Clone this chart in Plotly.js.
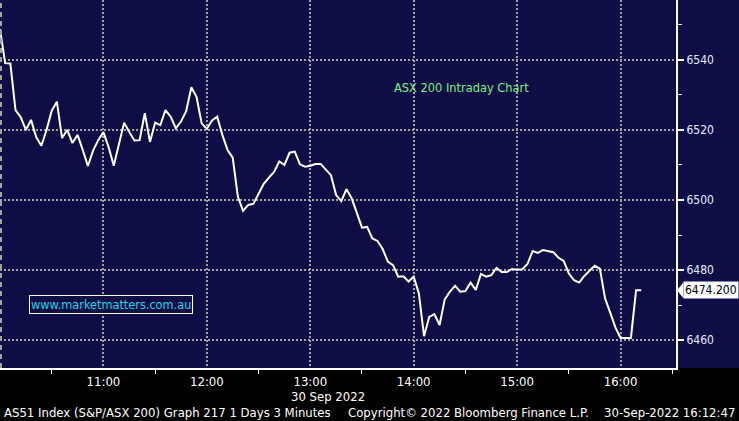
<!DOCTYPE html>
<html>
<head>
<meta charset="utf-8">
<script src="https://cdn.plot.ly/plotly-3.0.1.min.js"></script>
<style>html,body{margin:0;padding:0;background:#000;}#chart{width:739px;height:421px;}</style>
</head>
<body>
<div id="chart"></div>
<script>
// ---- data ----
const sessionDate = '2022-09-30';
const startMinute = 600;      // 10:00
const intervalMinutes = 3;    // "1 Days 3 Minutes"
const asx200 = [
  6548.8, 6539.1, 6539.0, 6525.7, 6523.7, 6520.0, 6522.9, 6518.0, 6515.5, 6520.0,
  6525.5, 6528.1, 6517.7, 6520.0, 6516.3, 6518.6, 6514.3, 6509.7, 6514.1, 6517.1,
  6519.4, 6515.1, 6509.8, 6516.0, 6522.1, 6519.4, 6517.0, 6517.1, 6524.8, 6516.6,
  6522.1, 6521.4, 6525.7, 6523.8, 6520.5, 6522.4, 6525.4, 6532.2, 6529.5, 6521.9,
  6520.3, 6522.7, 6523.8, 6518.6, 6514.3, 6512.1, 6500.9, 6496.9, 6498.6, 6498.9,
  6501.9, 6504.6, 6506.4, 6508.0, 6511.0, 6510.0, 6513.5, 6513.8, 6510.2, 6509.5,
  6509.8, 6510.3, 6510.3, 6508.6, 6507.1, 6501.4, 6499.7, 6503.1, 6500.5, 6496.3,
  6492.1, 6492.3, 6489.0, 6488.3, 6486.0, 6482.4, 6481.4, 6478.1, 6478.2, 6476.7,
  6478.1, 6473.3, 6461.1, 6466.6, 6467.4, 6464.3, 6471.6, 6473.8, 6475.5, 6473.8,
  6474.0, 6476.4, 6474.3, 6478.9, 6478.1, 6478.5, 6480.6, 6479.4, 6479.4, 6480.3,
  6480.1, 6480.2, 6481.7, 6485.4, 6484.9, 6485.7, 6485.5, 6485.1, 6483.5, 6482.6,
  6479.0, 6477.1, 6476.4, 6478.3, 6479.8, 6481.2, 6480.4, 6471.9, 6467.8, 6463.6,
  6460.6, 6460.6, 6460.6, 6474.2, 6474.2
];
const lastPrice = 6474.2;
const xRange = ['2022-09-30 10:00:00', '2022-09-30 16:32:10'];
const yRange = [6452, 6557.14];
const chartTitle = 'ASX 200 Intraday Chart';
const watermark = 'www.marketmatters.com.au';
const dateLabel = '30 Sep 2022';
const footerLeft = 'AS51 Index (S&P/ASX 200) Graph 217 1 Days 3 Minutes';
const footerMid = 'Copyright\u00A9 2022 Bloomberg Finance L.P.';
const footerRight = '30-Sep-2022 16:12:47';

// ---- build times ----
function pad(n){return (n<10?'0':'')+n;}
const times = asx200.map(function(_, i){
  const t = startMinute + i*intervalMinutes;
  return sessionDate + ' ' + pad(Math.floor(t/60)) + ':' + pad(t%60) + ':00';
});

const navy = '#0f0d46';
const condensed = 'DejaVu Sans Condensed, Liberation Sans Narrow, DejaVu Sans, sans-serif';

const trace = {
  x: times, y: asx200, type: 'scatter', mode: 'lines',
  line: {color: '#ffffff', width: 2}, hoverinfo: 'skip'
};

const yp = (lastPrice - yRange[0]) / (yRange[1] - yRange[0]);
const hp = 8 / 368;

const layout = {
  width: 739, height: 421,
  margin: {l: 0, r: 63, t: 0, b: 53, pad: 0},
  paper_bgcolor: navy, plot_bgcolor: navy,
  showlegend: false,
  xaxis: {
    type: 'date', range: xRange, dtick: 3600000, tickformat: '%H:%M',
    showgrid: true, gridcolor: '#a3a3a3', gridwidth: 2, griddash: '2px,2px',
    ticks: '', showline: true, linecolor: '#ffffff', linewidth: 2, zeroline: false,
    tickfont: {family: condensed, size: 13, color: '#ffffff'},
    minor: {dtick: 1800000, ticks: 'outside', ticklen: 4, tickwidth: 1, tickcolor: '#ffffff', showgrid: false},
    fixedrange: true
  },
  yaxis: {
    side: 'right', range: yRange, tick0: 6460, dtick: 20,
    showgrid: true, gridcolor: '#a3a3a3', gridwidth: 2, griddash: '2px,2px',
    ticks: 'outside', ticklen: 6, tickwidth: 2, tickcolor: '#ffffff',
    showline: true, linecolor: '#ffffff', linewidth: 2, zeroline: false,
    tickfont: {family: condensed, size: 12, color: '#e6eeff'},
    minor: {tick0: 6450, dtick: 10, ticks: 'outside', ticklen: 4, tickwidth: 1, tickcolor: '#ffffff', showgrid: false},
    fixedrange: true
  },
  shapes: [
    {type: 'rect', xref: 'paper', yref: 'paper', x0: -0.02, x1: 1.2, y0: -0.2, y1: 0,
     fillcolor: '#000000', line: {width: 0}, layer: 'below'},
    {type: 'line', xref: 'paper', yref: 'paper', x0: 0.0015, x1: 0.0015, y0: 0, y1: 1,
     line: {color: '#a3a3a3', width: 2, dash: '5px,4px'}, layer: 'above'},
    {type: 'path', xref: 'paper', yref: 'paper', layer: 'above',
     path: 'M 1.0015 ' + yp + ' L 1.0110 ' + (yp + hp) + ' L 1.0110 ' + (yp - hp) + ' Z',
     fillcolor: '#ffffff', line: {width: 0}}
  ],
  annotations: [
    {text: chartTitle, xref: 'paper', yref: 'paper', x: 392/676, y: (368-87)/368,
     xanchor: 'left', yanchor: 'middle', showarrow: false,
     font: {family: condensed, size: 12.7, color: '#7cf07c'}},
    {text: watermark, xref: 'paper', yref: 'paper', x: 29/676, y: (368-304.5)/368,
     xanchor: 'left', yanchor: 'middle', showarrow: false,
     bordercolor: '#ffffff', borderwidth: 1, borderpad: 1, bgcolor: navy,
     font: {family: condensed, size: 12.6, color: '#22d4e4'}},
    {text: lastPrice.toFixed(3), xref: 'paper', yref: 'paper', x: 1, y: yp,
     xanchor: 'left', yanchor: 'middle', xshift: 7, showarrow: false,
     bgcolor: '#ffffff', borderpad: 1,
     font: {family: condensed, size: 12, color: '#000000'}},
    {text: dateLabel, xref: 'paper', yref: 'paper', x: 328/676, y: (368-396)/368,
     xanchor: 'center', yanchor: 'middle', showarrow: false,
     font: {family: condensed, size: 13, color: '#ffffff'}},
    {text: footerLeft, xref: 'paper', yref: 'paper', x: 2/676, y: (368-412)/368,
     xanchor: 'left', yanchor: 'middle', showarrow: false,
     font: {family: condensed, size: 13, color: '#ffffff'}},
    {text: footerMid, xref: 'paper', yref: 'paper', x: 468.5/676, y: (368-412)/368,
     xanchor: 'center', yanchor: 'middle', showarrow: false,
     font: {family: condensed, size: 13, color: '#ffffff'}},
    {text: footerRight, xref: 'paper', yref: 'paper', x: 737/676, y: (368-412)/368,
     xanchor: 'right', yanchor: 'middle', showarrow: false,
     font: {family: condensed, size: 13, color: '#ffffff'}}
  ]
};

Plotly.newPlot('chart', [trace], layout, {displayModeBar: false, staticPlot: true});
</script>
</body>
</html>
